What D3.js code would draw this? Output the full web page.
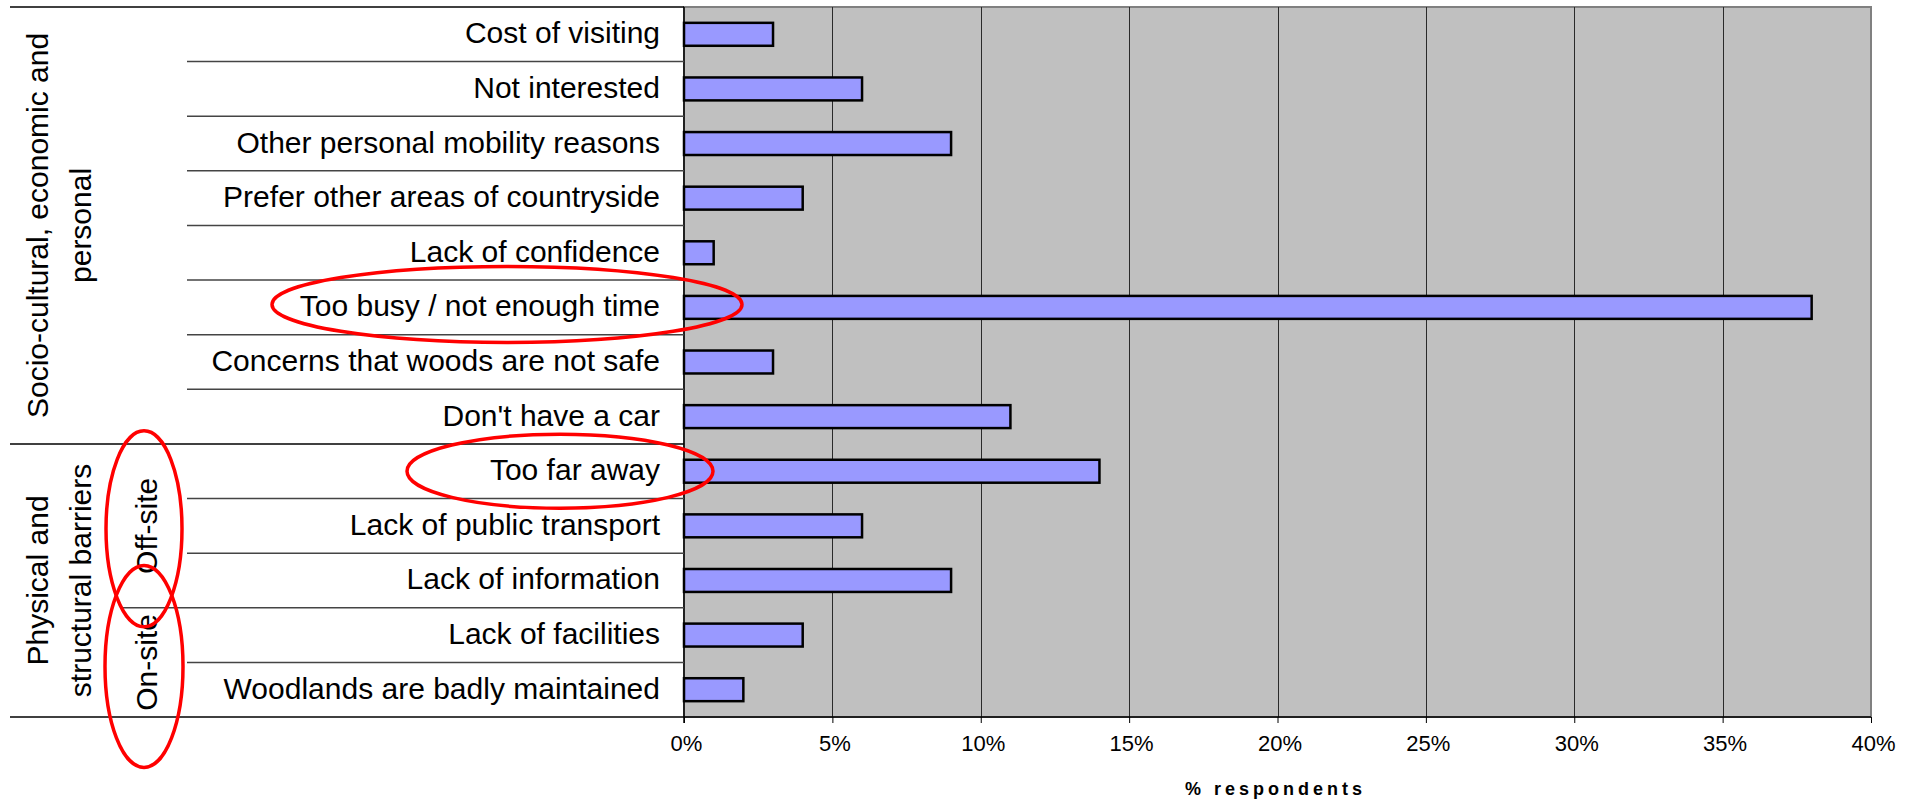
<!DOCTYPE html>
<html>
<head>
<meta charset="utf-8">
<script src="https://cdn.jsdelivr.net/npm/d3@7"></script>
<style>
  html, body { margin: 0; padding: 0; background: #ffffff; }
  svg { display: block; }
  text { font-family: "Liberation Sans", Arial, sans-serif; fill: #000; }
</style>
</head>
<body>
<div id="chart"></div>
<script>
// ---- data ----
const categories = [
  "Cost of visiting",
  "Not interested",
  "Other personal mobility reasons",
  "Prefer other areas of countryside",
  "Lack of confidence",
  "Too busy / not enough time",
  "Concerns that woods are not safe",
  "Don't have a car",
  "Too far away",
  "Lack of public transport",
  "Lack of information",
  "Lack of facilities",
  "Woodlands are badly maintained"
];
const values = [0.03, 0.06, 0.09, 0.04, 0.01, 0.38, 0.03, 0.11, 0.14, 0.06, 0.09, 0.04, 0.02];
const groupLabels = [["Socio-cultural, economic and", "personal"], ["Physical and", "structural barriers"]];
const groupStart = [0, 8];
const groupEnd = [8, 13];
const subLabels = ["Off-site", "On-site"];
const subStart = [8, 11];
const subEnd = [11, 13];
const tickValues = [0, 0.05, 0.10, 0.15, 0.20, 0.25, 0.30, 0.35, 0.40];
const axisTitle = "% respondents";
const highlighted = ["Too busy / not enough time", "Too far away"];

// ---- layout ----
const W = 1921, H = 801;
const plotL = 684, plotR = 1871, plotT = 7, plotB = 717;

const svg = d3.select("#chart").append("svg").attr("width", W).attr("height", H);

const x = d3.scaleLinear().domain([0, 0.40]).range([plotL, plotR]);
const y = d3.scaleBand().domain(categories).range([plotT, plotB])
  .paddingInner(0.58).paddingOuter(0.29);
const step = y.step();
const boundary = i => plotT + i * step;

// plot background
svg.append("rect")
  .attr("x", plotL).attr("y", plotT)
  .attr("width", plotR - plotL).attr("height", plotB - plotT)
  .attr("fill", "#C0C0C0").attr("stroke", "#808080").attr("stroke-width", 2);

// gridlines
svg.append("g").selectAll("line").data(tickValues.slice(1, -1)).join("line")
  .attr("x1", d => Math.round(x(d)) + 0.5).attr("x2", d => Math.round(x(d)) + 0.5)
  .attr("y1", plotT).attr("y2", plotB)
  .attr("stroke", "#2a2a2a").attr("stroke-width", 1);

// bars
svg.append("g").selectAll("rect").data(categories).join("rect")
  .attr("x", x(0))
  .attr("y", d => y(d))
  .attr("width", (d, i) => x(values[i]) - x(0))
  .attr("height", y.bandwidth())
  .attr("fill", "#9999FF")
  .attr("stroke", "#000").attr("stroke-width", 2.5);

// x axis
const xAxis = d3.axisBottom(x).tickValues(tickValues).tickFormat(d3.format(".0%"))
  .tickSize(6).tickPadding(12);
const gx = svg.append("g").attr("transform", `translate(0,${plotB})`).call(xAxis);
gx.select(".domain").remove();
gx.selectAll(".tick line").attr("stroke", "#000").attr("stroke-width", 1);
gx.selectAll(".tick text")
  .attr("font-family", "Liberation Sans, Arial, sans-serif")
  .attr("font-size", 22).attr("fill", "#000").attr("dx", 2);

// axis lines
svg.append("line").attr("x1", 10).attr("x2", plotR).attr("y1", plotB).attr("y2", plotB)
  .attr("stroke", "#000").attr("stroke-width", 1.5);
svg.append("line").attr("x1", plotL).attr("x2", plotL).attr("y1", plotT).attr("y2", plotB + 6)
  .attr("stroke", "#000").attr("stroke-width", 1.5);

// category separator lines
const sepData = [];
for (let i = 0; i < categories.length; i++) {
  let x1 = 187, col = "#444";
  if (groupStart.includes(i)) { x1 = 10; col = "#000"; }
  else if (subStart.includes(i)) { x1 = 120; col = "#444"; }
  sepData.push({ i, x1, col });
}
svg.append("g").selectAll("line").data(sepData).join("line")
  .attr("x1", d => d.x1).attr("x2", plotL)
  .attr("y1", d => boundary(d.i)).attr("y2", d => boundary(d.i))
  .attr("stroke", d => d.col).attr("stroke-width", 1.5);

// category labels
svg.append("g").selectAll("text").data(categories).join("text")
  .attr("x", 660)
  .attr("y", d => y(d) + y.bandwidth() / 2)
  .attr("dy", "0.3em")
  .attr("text-anchor", "end")
  .attr("font-size", 30)
  .text(d => d);

// group labels (rotated)
groupLabels.forEach((lines, g) => {
  const cy = (boundary(groupStart[g]) + boundary(groupEnd[g])) / 2;
  const baseX = [48, 91];
  lines.forEach((t, k) => {
    svg.append("text")
      .attr("transform", `translate(${baseX[k]},${cy}) rotate(-90)`)
      .attr("text-anchor", "middle")
      .attr("font-size", 30)
      .text(t);
  });
});

subLabels.forEach((t, s) => {
  const cy = (boundary(subStart[s]) + boundary(subEnd[s])) / 2;
  svg.append("text")
    .attr("transform", `translate(157,${cy}) rotate(-90)`)
    .attr("text-anchor", "middle")
    .attr("font-size", 30)
    .text(t);
});

// axis title
svg.append("text")
  .attr("x", (plotL + plotR) / 2 - 2).attr("y", 795)
  .attr("text-anchor", "middle")
  .attr("font-size", 18).attr("font-weight", "bold")
  .attr("letter-spacing", "4px")
  .text(axisTitle);

// red annotation ellipses
const ann = svg.append("g").attr("fill", "none").attr("stroke", "#FF0000").attr("stroke-width", 3.5);
const cyOf = c => y(c) + y.bandwidth() / 2;
ann.append("ellipse").attr("cx", 507).attr("cy", cyOf(highlighted[0]) - 3).attr("rx", 235).attr("ry", 38);
ann.append("ellipse").attr("cx", 560).attr("cy", cyOf(highlighted[1])).attr("rx", 153).attr("ry", 37);
ann.append("ellipse").attr("cx", 144)
  .attr("cy", (boundary(subStart[0]) + boundary(subEnd[0])) / 2 + 3).attr("rx", 38).attr("ry", 98);
ann.append("ellipse").attr("cx", 144)
  .attr("cy", (boundary(subStart[1]) + boundary(subEnd[1])) / 2 + 4).attr("rx", 39).attr("ry", 101);
</script>
</body>
</html>
